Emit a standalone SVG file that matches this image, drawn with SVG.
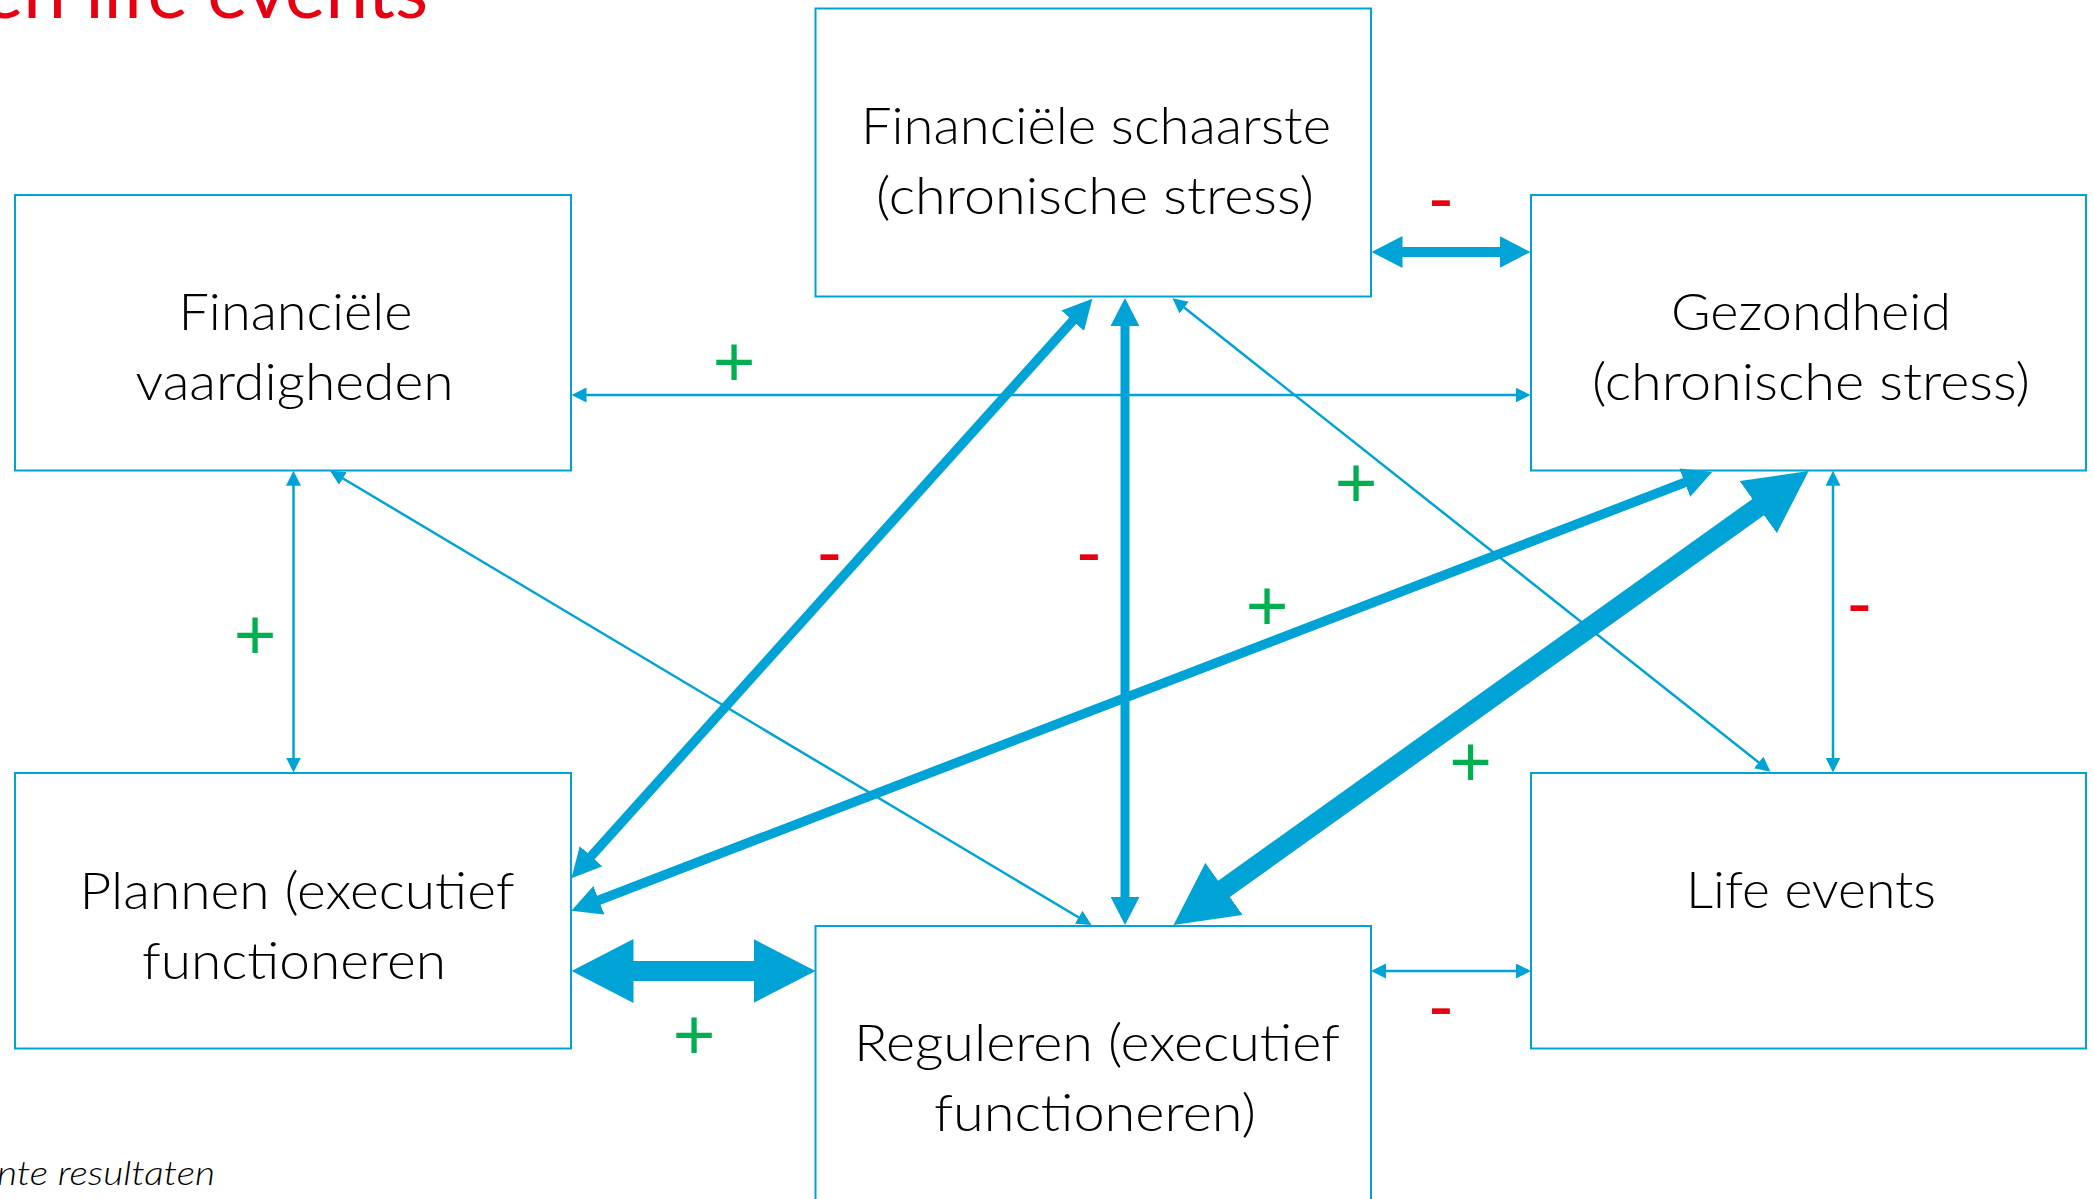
<svg xmlns="http://www.w3.org/2000/svg" width="2093" height="1199" viewBox="0 0 2093 1199">
  <style>
    .box { fill: #ffffff; stroke: #00A3D5; stroke-width: 2; }
    .lbl { font-family: Lato, "Open Sans", "Liberation Sans", sans-serif; font-weight: 300; font-size: 52px; fill: #000000; text-anchor: middle; }
    .thin { stroke: #00A3D5; stroke-width: 2.5; fill: none; marker-start: url(#ahThin); marker-end: url(#ahThin); }
    .thick { stroke: #00A3D5; fill: none; marker-start: url(#ahThick); marker-end: url(#ahThick); }
    .plus { font-family: "Liberation Sans", Arial, sans-serif; font-size: 73px; fill: #00B050; text-anchor: middle; }
    .minus { font-family: "Liberation Sans", Arial, sans-serif; font-size: 73px; fill: #E60012; text-anchor: middle; }
  </style>
  <defs>
    <marker id="ahThin" markerUnits="strokeWidth" viewBox="0 -3 6 6" markerWidth="6" markerHeight="6" refX="0.5" refY="0" orient="auto-start-reverse">
      <path d="M0,-3 L6,0 L0,3 Z" fill="#00A3D5"/>
    </marker>
    <marker id="ahThick" markerUnits="strokeWidth" viewBox="0 -1.6 3.1 3.2" markerWidth="3.1" markerHeight="3.2" refX="0.3" refY="0" orient="auto-start-reverse">
      <path d="M0,-1.6 L3.1,0 L0,1.6 Z" fill="#00A3D5"/>
    </marker>
  </defs>
  <rect width="2093" height="1199" fill="#ffffff"/>

  <text x="-17" y="18" font-family="Lato, 'Open Sans', sans-serif" font-size="76" fill="#E60012" textLength="445" lengthAdjust="spacingAndGlyphs">en life events</text>
  <text x="-3" y="1185" font-family="Lato, 'Open Sans', sans-serif" font-style="italic" font-weight="300" font-size="34" fill="#000000" textLength="218" lengthAdjust="spacingAndGlyphs">nte resultaten</text>

  <g id="node-financiele-schaarste">
    <rect class="box" x="815.5" y="8.5" width="555.5" height="288"/>
    <text class="lbl" x="1096" y="143.5" textLength="470" lengthAdjust="spacingAndGlyphs">Financiële schaarste</text>
    <text class="lbl" x="1095" y="213.5" textLength="438" lengthAdjust="spacingAndGlyphs">(chronische stress)</text>
  </g>
  <g id="node-financiele-vaardigheden">
    <rect class="box" x="15" y="195" width="556" height="275.5"/>
    <text class="lbl" x="295.5" y="329.5" textLength="234" lengthAdjust="spacingAndGlyphs">Financiële</text>
    <text class="lbl" x="294.5" y="400" textLength="318" lengthAdjust="spacingAndGlyphs">vaardigheden</text>
  </g>
  <g id="node-gezondheid">
    <rect class="box" x="1531" y="195" width="555" height="275.5"/>
    <text class="lbl" x="1811" y="329.5" textLength="280" lengthAdjust="spacingAndGlyphs">Gezondheid</text>
    <text class="lbl" x="1811" y="399.5" textLength="438" lengthAdjust="spacingAndGlyphs">(chronische stress)</text>
  </g>
  <g id="node-plannen">
    <rect class="box" x="15" y="773" width="556" height="275.5"/>
    <text class="lbl" x="297" y="908.5" textLength="435" lengthAdjust="spacingAndGlyphs">Plannen (executief</text>
    <text class="lbl" x="294" y="978.5" textLength="304" lengthAdjust="spacingAndGlyphs">functioneren</text>
  </g>
  <g id="node-life-events">
    <rect class="box" x="1531" y="773" width="555" height="275.5"/>
    <text class="lbl" x="1811" y="908" textLength="250" lengthAdjust="spacingAndGlyphs">Life events</text>
  </g>
  <g id="node-reguleren">
    <rect class="box" x="815.5" y="926" width="555.5" height="300"/>
    <text class="lbl" x="1097" y="1061" textLength="486" lengthAdjust="spacingAndGlyphs">Reguleren (executief</text>
    <text class="lbl" x="1095" y="1131" textLength="322" lengthAdjust="spacingAndGlyphs">functioneren)</text>
  </g>

  <g id="connectors">
    <line class="thick" stroke-width="10" x1="1399.5" y1="252" x2="1502.5" y2="252"/>
    <line class="thin" x1="585.25" y1="395" x2="1516.75" y2="395"/>
    <line class="thick" stroke-width="9.5" x1="1074.6" y1="318.6" x2="589.2" y2="858.4"/>
    <line class="thick" stroke-width="9" x1="1125" y1="323.2" x2="1125" y2="899.8"/>
    <line class="thick" stroke-width="9.5" x1="596.2" y1="901.25" x2="1687.4" y2="481.55"/>
    <line class="thick" stroke-width="20" x1="1219.1" y1="892.4" x2="1763.1" y2="503.6"/>
    <line class="thick" stroke-width="20" x1="627.5" y1="971" x2="759.5" y2="971"/>
    <line class="thin" x1="1384.75" y1="971" x2="1517.25" y2="971"/>
    <line class="thin" x1="293.5" y1="484.45" x2="293.5" y2="758.75"/>
    <line class="thin" x1="341.8" y1="477.75" x2="1079.7" y2="917.95"/>
    <line class="thin" x1="1183.2" y1="306.8" x2="1759.7" y2="763.2"/>
    <line class="thin" x1="1833" y1="484.45" x2="1833" y2="758.75"/>
  </g>

  <g id="connector-labels">
    <text class="minus" x="1441" y="221.5">-</text>
    <text class="minus" x="829.5" y="575.5">-</text>
    <text class="minus" x="1089" y="575.5">-</text>
    <text class="minus" x="1859.5" y="626.5">-</text>
    <text class="minus" x="1441" y="1029.5">-</text>
    <text class="plus" x="734" y="385.8">+</text>
    <text class="plus" x="255" y="658.8">+</text>
    <text class="plus" x="1356" y="506.8">+</text>
    <text class="plus" x="1267" y="630.3">+</text>
    <text class="plus" x="1470.5" y="785.8">+</text>
    <text class="plus" x="694" y="1058.8">+</text>
  </g>
</svg>
